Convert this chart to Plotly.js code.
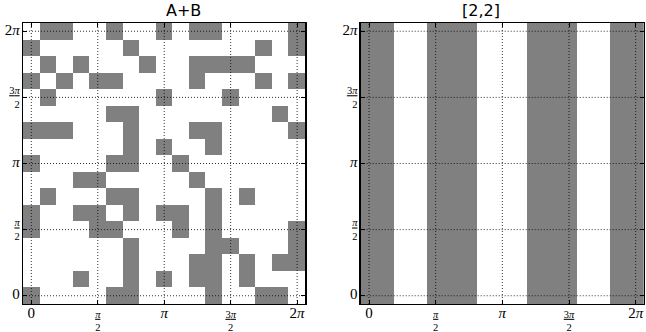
<!DOCTYPE html>
<html>
<head>
<meta charset="utf-8">
<script src="https://cdn.plot.ly/plotly-3.0.1.min.js"></script>
<style>html,body{margin:0;padding:0;background:#fff;}#chart{width:646px;height:332px;}</style>
</head>
<body>
<div id="chart"></div>
<script>
// Left panel "A+B": rows listed from bottom (y=0) to top (y=2π), 17 cells each
const gridAB = [
  [1,0,0,0,0,1,1,0,0,0,0,1,0,0,1,1,0],
  [0,0,0,1,0,0,1,0,1,0,1,1,0,1,0,0,0],
  [0,0,0,0,0,0,1,0,0,0,1,1,0,1,0,1,1],
  [0,0,0,0,0,0,1,0,0,0,0,1,1,0,0,0,1],
  [1,0,0,0,1,1,0,0,0,1,0,1,0,0,0,0,1],
  [1,0,0,1,1,0,1,0,1,1,0,1,0,0,0,0,0],
  [0,1,0,0,0,1,1,0,0,0,0,1,0,1,0,0,0],
  [0,0,0,1,1,0,0,0,0,0,1,0,0,0,0,0,0],
  [1,0,0,0,0,1,1,0,0,1,0,0,0,0,0,0,0],
  [0,0,0,0,0,0,1,0,1,0,0,1,0,0,0,0,0],
  [1,1,1,0,0,0,1,0,0,0,1,1,0,0,0,0,1],
  [0,0,0,0,0,1,1,0,0,0,0,0,0,0,0,1,0],
  [0,1,0,0,0,0,0,0,1,0,0,0,1,0,0,0,0],
  [1,0,1,0,1,1,0,0,0,0,1,0,0,0,1,0,1],
  [0,1,0,1,0,0,0,1,0,0,1,1,1,1,0,0,0],
  [1,0,0,0,0,0,1,0,0,0,0,0,0,0,1,0,1],
  [0,1,1,0,0,1,0,0,1,0,1,1,0,0,0,0,1]
];
// Right panel "[2,2]": identical column pattern in every row
const stripes22 = [1,1,0,0,1,1,1,0,0,0,1,1,1,0,0,1,1];
const nRows22 = 17;

const panelTitles = ["A+B", "[2,2]"];
const tickVals = [0, Math.PI/2, Math.PI, 3*Math.PI/2, 2*Math.PI];
const big = s => "<span style='font-size:15px'>" + s + "</span>";
const frac = (n) => "<span style='text-decoration:underline'>" + n + "</span><br>2";
const PI = "<i>π</i>";
const tickText = [big("0"), frac(PI), big(PI), frac("3" + PI), big("2" + PI)];

const grid22 = [];
for (let r = 0; r < nRows22; r++) grid22.push(stripes22.slice());

const step = Math.PI / 8;
const lo = -step/2, hi = 2*Math.PI + step/2;
const cs = [[0, '#ffffff'], [1, '#808080']];

function hm(z, xa, ya) {
  return {type: 'heatmap', z: z, x0: 0, dx: step, y0: 0, dy: step,
    colorscale: cs, zmin: 0, zmax: 1, showscale: false, xaxis: xa, yaxis: ya,
    hoverinfo: 'skip'};
}

const tickFont = {family: "Liberation Serif", size: 10.5, color: '#000'};
function ax(domain, anchor) {
  return {domain: domain, anchor: anchor, range: [lo, hi], tickvals: tickVals, ticktext: tickText,
    showgrid: false, zeroline: false, ticks: 'inside', ticklen: 4, tickwidth: 1, tickcolor: '#000',
    mirror: 'allticks', showline: true, linecolor: '#000', linewidth: 1.2, tickfont: tickFont,
    fixedrange: true, layer: 'above traces'};
}

const shapes = [];
[['x','y'],['x2','y2']].forEach(([xa, ya]) => {
  tickVals.forEach(v => {
    shapes.push({type:'line', xref: xa, yref: ya, x0: v, x1: v, y0: lo, y1: hi,
      line: {color:'#000', width: 0.8, dash: '1px,2px'}, layer: 'above'});
    shapes.push({type:'line', xref: xa, yref: ya, y0: v, y1: v, x0: lo, x1: hi,
      line: {color:'#000', width: 0.8, dash: '1px,2px'}, layer: 'above'});
  });
});

const titleFont = {family: "DejaVu Sans", size: 16, color: '#000'};
const layout = {
  width: 646, height: 332,
  font: {family: "DejaVu Sans", color: '#000'},
  margin: {l: 23, r: 2, t: 23, b: 28},
  paper_bgcolor: '#fff', plot_bgcolor: '#fff',
  showlegend: false,
  xaxis: ax([0, 0.4548], 'y'),
  yaxis: ax([0, 1], 'x'),
  xaxis2: ax([0.5438, 1], 'y2'),
  yaxis2: ax([0, 1], 'x2'),
  shapes: shapes,
  annotations: [
    {text: panelTitles[0], xref: 'paper', yref: 'paper', x: 0.2274, y: 1.0434, yanchor: 'middle',
      showarrow: false, font: titleFont},
    {text: panelTitles[1], xref: 'paper', yref: 'paper', x: 0.7719, y: 1.0434, yanchor: 'middle',
      showarrow: false, font: titleFont}
  ]
};

Plotly.newPlot('chart', [hm(gridAB, 'x', 'y'), hm(grid22, 'x2', 'y2')], layout, {staticPlot: true, displayModeBar: false});
</script>
</body>
</html>
